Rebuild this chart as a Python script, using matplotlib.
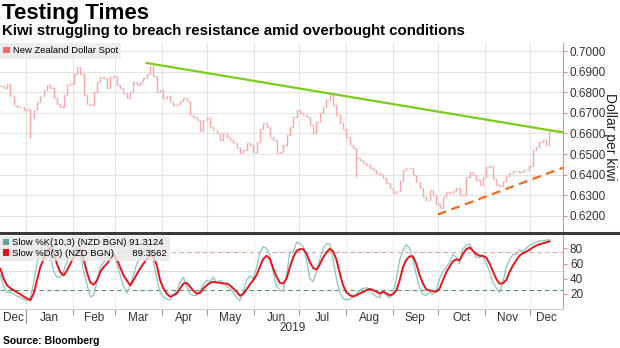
import numpy as np
import pandas as pd
import matplotlib
matplotlib.use('Agg')
import matplotlib.pyplot as plt
from matplotlib.patches import Patch
from matplotlib.lines import Line2D

plt.rcParams['font.family'] = ['Liberation Sans', 'DejaVu Sans']

nzd_close = [
    0.6830, 0.6820, 0.6838, 0.6780, 0.6740, 0.6730, 0.6730, 0.6715, 0.6720, 0.6673,
    0.6715, 0.6755, 0.6780, 0.6810, 0.6835, 0.6820, 0.6770, 0.6745, 0.6730, 0.6787,
    0.6835, 0.6840, 0.6890, 0.6924, 0.6890, 0.6787, 0.6745, 0.6740, 0.6800, 0.6850,
    0.6875, 0.6870, 0.6820, 0.6875, 0.6880, 0.6835, 0.6820, 0.6795, 0.6770, 0.6800,
    0.6850, 0.6835, 0.6850,
    0.6868, 0.6890, 0.6925, 0.6880, 0.6800, 0.6810, 0.6770, 0.6780, 0.6755, 0.6740,
    0.6745, 0.6760, 0.6770, 0.6760, 0.6690, 0.6682, 0.6665, 0.6610, 0.6665, 0.6673,
    0.6633, 0.6617, 0.6600, 0.6568, 0.6600, 0.6585, 0.6568, 0.6552, 0.6528, 0.6504,
    0.6520, 0.6552, 0.6544, 0.6512, 0.6560, 0.6620, 0.6650, 0.6633, 0.6585, 0.6568,
    0.6504, 0.6512,
    0.6544, 0.6593, 0.6633, 0.6682, 0.6714, 0.6700, 0.6690, 0.6680, 0.6640, 0.6600,
    0.6658, 0.6698, 0.6730, 0.6763, 0.6790, 0.6740, 0.6690, 0.6650, 0.6620, 0.6585,
    0.6545, 0.6530, 0.6480, 0.6472, 0.6455, 0.6447, 0.6431, 0.6423, 0.6407, 0.6399,
    0.6383, 0.6358, 0.6334, 0.6310, 0.6320, 0.6370, 0.6425, 0.6431, 0.6431, 0.6399,
    0.6366, 0.6334,
    0.6293, 0.6277, 0.6326, 0.6301, 0.6260, 0.6240, 0.6290, 0.6318, 0.6310, 0.6320,
    0.6334, 0.6301, 0.6300, 0.6390, 0.6415, 0.6398, 0.6374, 0.6350, 0.6390, 0.6439,
    0.6440, 0.6380, 0.6350, 0.6345, 0.6370, 0.6395, 0.6406, 0.6418, 0.6420, 0.6415,
    0.6423, 0.6423, 0.6440, 0.6520, 0.6536, 0.6560, 0.6568, 0.6544, 0.6610,
]
# intraday spikes visible on the chart
spike_dates = ['2019-01-03', '2019-08-07']
spike_lows = [0.6578, 0.6390]

k_last = 91.3124
d_last = 89.3562
stoch_k = [
    45, 30, 22, 22, 20, 17, 15, 13, 11, 14,
    35, 60, 80, 86, 85, 70, 50, 42, 42, 50,
    62, 72, 78, 82, 72, 50, 33, 16, 18, 35,
    55, 62, 65, 75, 74, 60, 45, 30, 21, 30,
    45, 60, 68, 75, 80, 78, 62, 40, 22, 16,
    13, 12, 18, 24, 35, 42, 30, 20, 18, 18,
    25, 32, 38, 36, 42, 35, 38, 35, 30, 27,
    22, 15, 11, 22, 38, 44, 40, 55, 75, 82,
    80, 70, 48, 30, 24, 24, 45, 75,
    75, 88, 86, 82, 65, 40, 36, 50, 65, 80,
    86, 86, 65, 40, 22, 14, 12, 13, 16, 20,
    24, 27, 28, 26, 20, 16, 15, 25, 18, 15,
    20, 40, 65, 78, 85, 80, 65, 45, 28, 19,
    18, 22, 19, 25, 40, 50, 55, 62, 72, 68,
    60, 80, 84, 86, 78, 68, 68, 70, 60, 50,
    35, 28, 22, 35, 55, 65, 72, 72, 78, 76,
    80, 84, 86, 88, 90, 90, 91, k_last,
]
stoch_d = [
    52.9, 39.9, 31.2, 27.5, 24.7, 22.0, 19.5, 16.5, 13.8, 11.7,
    20.4, 38.0, 55.3, 66.0, 74.7, 81.2, 74.7, 59.5, 48.6, 44.3,
    50.8, 59.5, 68.1, 74.7, 79.0, 66.0, 48.6, 35.4, 32.0, 37.6,
    48.6, 55.3, 59.5, 66.0, 72.5, 66.0, 55.3, 44.3, 37.6, 31.2,
    38.0, 46.0, 53.4, 60.0, 66.0, 71.0, 70.0, 57.5, 38.0, 27.1,
    20.4, 16.1, 18.2, 20.4, 27.1, 33.6, 34.5, 29.3, 24.1, 20.4,
    21.3, 27.1, 31.2, 34.5, 35.8, 35.0, 34.5, 33.6, 33.6, 31.2,
    27.1, 22.8, 17.4, 20.0, 26.0, 32.5, 38.0, 45.0, 56.0, 66.0,
    70.3, 66.0, 53.4, 42.5, 34.5, 33.6, 39.9, 55.3,
    68.1, 76.8, 79.0, 79.0, 73.0, 62.0, 54.0, 52.0, 59.0, 68.0,
    74.7, 79.5, 76.0, 65.0, 47.0, 31.0, 22.0, 18.2, 16.5, 18.0,
    20.4, 22.5, 24.7, 26.5, 25.0, 22.8, 20.4, 22.8, 20.4, 18.2,
    19.5, 24.7, 38.0, 55.3, 65.0, 69.5, 69.5, 59.5, 44.3, 33.6,
    25.8, 24.5, 23.5, 22.8, 27.1, 38.0, 48.6, 56.0, 63.0, 65.5,
    64.7, 72.5, 79.0, 81.2, 76.8, 72.5, 70.3, 70.0, 68.0, 60.0,
    50.0, 39.9, 33.5, 34.0, 38.0, 48.6, 57.2, 64.0, 70.3, 73.7,
    75.5, 78.0, 81.2, 83.5, 85.5, 86.5, 88.0, d_last,
]

# trendlines
resistance_dates = ['2019-03-22', '2019-12-23']
resistance_values = [0.6942, 0.6605]
support_dates = ['2019-10-01', '2019-12-23']
support_values = [0.6207, 0.6434]

price_ticks = [0.62, 0.63, 0.64, 0.65, 0.66, 0.67, 0.68, 0.69, 0.70]
stoch_ticks = [20, 40, 60, 80]
month_names = ['Dec', 'Jan', 'Feb', 'Mar', 'Apr', 'May', 'Jun',
               'Jul', 'Aug', 'Sep', 'Oct', 'Nov', 'Dec']

dates = pd.date_range('2018-12-15', '2019-12-14', periods=len(nzd_close))
close = np.array(nzd_close)
opens = np.r_[close[0], close[:-1]]
highs = np.maximum(opens, close)
lows = np.minimum(opens, close)
for d, lo in zip(spike_dates, spike_lows):
    i = np.argmin(np.abs(dates - pd.Timestamp(d)))
    lows[i] = min(lows[i], lo)

x0, x1 = pd.Timestamp('2018-12-14 18:00'), pd.Timestamp('2019-12-23')
month_starts = pd.date_range('2019-01-01', '2019-12-01', freq='MS')
edges = [x0] + list(month_starts) + [x1]
label_pos = [a + (b - a) / 2 for a, b in zip(edges[:-1], edges[1:])]

W, H = 620, 348
fig = plt.figure(figsize=(6.2, 3.48), dpi=100)
ax = fig.add_axes([0, 1 - 232 / H, 563 / W, (232 - 43) / H])
ax2 = fig.add_axes([0, 1 - 309 / H, 563 / W, (309 - 234) / H], sharex=ax)

pink = '#f08a8a'
bar_col = '#f5a8a8'

# price bars
half = pd.Timedelta(hours=18)
ax.vlines(dates, lows, highs, color=bar_col, lw=1.0)
ax.hlines(opens, dates - half, dates, color=bar_col, lw=1.0)
ax.hlines(close, dates, dates + half, color=bar_col, lw=1.0)
ax.plot(pd.to_datetime(resistance_dates), resistance_values, color='#7ccc1c', lw=1.6)
ax.plot(pd.to_datetime(support_dates), support_values, color='#f26a1b', lw=1.6,
        ls=(0, (4, 2.5)))

ax.set_xlim(x0, x1)
ax.set_ylim(0.6122, 0.7039)
ax.set_xticks(month_starts)
ax.tick_params(axis='x', which='both', length=0, labelbottom=False)
ax.yaxis.tick_right()
ax.set_yticks(price_ticks)
ax.set_yticklabels([f'{v:.4f}' for v in price_ticks])
ax.tick_params(axis='y', colors=pink, labelcolor='#333333', length=3, pad=2, labelsize=8.5)
ax.grid(color='#e4e4e4', lw=0.8)
ax.set_axisbelow(True)
for s in ['top', 'left', 'bottom']:
    ax.spines[s].set_visible(False)
ax.spines['right'].set_color(pink)
fig.text(610 / W, 1 - 137 / H, 'Dollar per kiwi', rotation=270, ha='center', va='center',
         fontsize=10, color='#222222')

leg = ax.legend([Patch(facecolor='#f26a6a')], ['New Zealand Dollar Spot'],
                loc='upper left', bbox_to_anchor=(0, 1), borderaxespad=0,
                fontsize=6.8, handlelength=0.7, handleheight=0.7, handletextpad=0.3,
                borderpad=0.35, fancybox=False, framealpha=0.9)
leg.get_frame().set_facecolor('#ebebeb')
leg.get_frame().set_edgecolor('none')

# stochastic panel
ax2.axhline(75, color='#f0a0a0', lw=0.8, ls=(0, (4, 3)))
ax2.axhline(25, color='#4a9a6a', lw=0.8, ls=(0, (4, 3)))
ax2.axhline(50, color='#dddddd', lw=0.8)
ax2.plot(dates, stoch_k, color='#8cc4be', lw=0.9)
ax2.plot(dates, stoch_d, color='#e8141c', lw=1.4)

ax2.set_ylim(0, 99)
ax2.yaxis.tick_right()
ax2.set_yticks(stoch_ticks)
ax2.tick_params(axis='y', colors=pink, labelcolor='#333333', length=3, pad=2, labelsize=8.5)
ax2.set_xticks(month_starts)
ax2.tick_params(axis='x', which='major', length=4, color='#999999', labelbottom=False)
ax2.set_xticks(label_pos, minor=True)
ax2.set_xticklabels(month_names, minor=True)
ax2.tick_params(axis='x', which='minor', length=0, pad=2, labelsize=8.5, labelcolor='#333333')
ax2.grid(axis='x', color='#dddddd', lw=0.8, ls=':')
for s in ['top', 'left']:
    ax2.spines[s].set_visible(False)
ax2.spines['bottom'].set_color('#cccccc')
ax2.spines['right'].set_color(pink)
ax2.axvline(pd.Timestamp('2019-01-01'), ymin=-0.19, ymax=0, color='#999999', lw=0.8,
            clip_on=False)

leg2 = ax2.legend([Patch(facecolor='#5fa8a0'), Patch(facecolor='#e8141c')],
                  [f'Slow %K(10,3) (NZD BGN) {k_last:.4f}',
                   f'Slow %D(3) (NZD BGN)       {d_last:.4f}'],
                  loc='upper left', bbox_to_anchor=(0, 0.98), borderaxespad=0,
                  fontsize=6.8, handlelength=0.7, handleheight=0.7, handletextpad=0.3,
                  borderpad=0.3, labelspacing=0.15, fancybox=False, framealpha=0.8)
leg2.get_frame().set_facecolor('#e8e8e8')
leg2.get_frame().set_edgecolor('none')

# separator between panels
fig.add_artist(Line2D([0, 1], [1 - 232.5 / H] * 2, color='#3a3a3a', lw=2.2,
                      transform=fig.transFigure))

fig.text(0.003, 1 - 13 / H, 'Testing Times', fontsize=16, weight='bold', va='center')
fig.text(0.003, 1 - 31 / H, 'Kiwi struggling to breach resistance amid overbought conditions',
         fontsize=10.8, weight='bold', va='center')
fig.text(293 / W, 1 - 328 / H, '2019', ha='center', va='center', fontsize=8.5, color='#333333')
fig.text(3 / W, 1 - 341 / H, 'Source: Bloomberg', fontsize=7.5, weight='bold', va='center')

fig.savefig('out.png', dpi=100)
plt.close()
